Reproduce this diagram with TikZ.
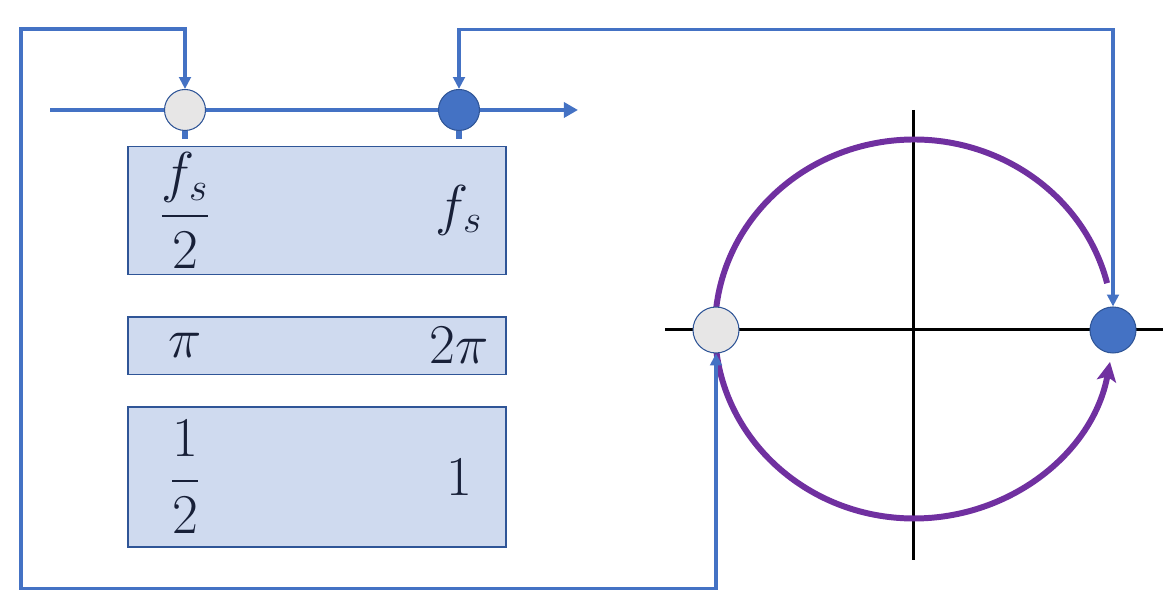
\RequirePackage{fix-cm}
\documentclass[tikz,border=0pt]{standalone}
\definecolor{azulLinha}{RGB}{68,114,196}
\definecolor{azulEscuro}{RGB}{47,85,151}
\definecolor{azulCaixa}{RGB}{207,218,239}
\definecolor{cinzaMarca}{RGB}{231,230,230}
\definecolor{roxoArco}{RGB}{112,48,160}
\definecolor{tintaTexto}{RGB}{24,32,56}
\usepackage{amsmath}
\usetikzlibrary{arrows.meta,positioning}
\tikzset{
  caixa/.style={rectangle, draw=azulEscuro, line width=0.9pt, fill=azulCaixa,
                minimum width=7.55cm, inner sep=0pt},
  rotulo/.style={text=tintaTexto, font=\fontsize{32}{38}\selectfont, inner sep=0pt},
  marcaVazia/.style={circle, draw=azulEscuro, line width=0.6pt, fill=cinzaMarca,
                     minimum size=0.82cm, inner sep=0pt},
  marcaCheia/.style={circle, draw=azulEscuro, line width=0.6pt, fill=azulLinha,
                     minimum size=0.82cm, inner sep=0pt},
  eixo/.style={-{Triangle[length=8pt,width=8.5pt]}, line width=2.4pt, azulLinha},
  ligacao/.style={{Triangle[length=6.8pt,width=6.6pt]}-{Triangle[length=6.8pt,width=6.6pt]},
                  line width=1.9pt, azulLinha},
  toco/.style={line width=3.6pt, azulLinha},
  cruz/.style={line width=1.7pt, black},
  arco/.style={line width=3.4pt, roxoArco},
  setaArco/.style={-{Stealth[length=11pt,width=11pt,inset=2.5pt]}, line width=3.4pt, roxoArco},
}

\begin{document}
\begin{tikzpicture}[x=0.02cm, y=0.02cm]
  \useasboundingbox (0,0) rectangle (1173,611);
  \node[caixa, minimum height=2.56cm] (b1) at (317,400.5) {};
  \node[caixa, minimum height=1.15cm, below=0.82cm of b1] (b2) {};
  \node[caixa, minimum height=2.80cm, below=0.62cm of b2] (b3) {};
  \coordinate (inicio) at (50,501);
  \coordinate (fim) at (578,501);
  \draw[eixo] (inicio) -- (fim);
  \node[marcaVazia] (m1) at (185,501) {};
  \node[marcaCheia] (m2) at (459,501) {};
  \draw[toco] (m1.south) -- ++(0,-8);
  \draw[toco] (m2.south) -- ++(0,-8);
  \node[rotulo] (t1) at (b1 -| m1) {$\dfrac{f_s}{2}$};
  \node[rotulo] (t2) at (b1 -| m2) {$f_s$};
  \node[rotulo] (t3) at (b2 -| m1) {$\pi$};
  \node[rotulo] (t4) at (b2 -| m2) {$2\pi$};
  \node[rotulo] (t5) at (b3 -| m1) {$\dfrac{1}{2}$};
  \node[rotulo] (t6) at (b3 -| m2) {$1$};
  \draw[cruz] (665,281) -- (1163,281);
  \draw[cruz] (913,501) -- (913,51);
  \draw[arco] (1107.1,327.8) arc[start angle=14, end angle=180, x radius=199, y radius=189.5];
  \draw[setaArco] (715,282) arc[start angle=180, end angle=350, x radius=199, y radius=189.5];
  \node[marcaVazia, minimum size=0.92cm] (u1) at (716,281) {};
  \node[marcaCheia, minimum size=0.92cm] (u2) at (1113,281) {};
  \draw[ligacao] (u1.south) -- ++(0,-235) -| (21,582) -| (m1.north);
  \draw[ligacao] (m2.north) -- ++(0,59.5) -| (u2.north);
\end{tikzpicture}
\end{document}
